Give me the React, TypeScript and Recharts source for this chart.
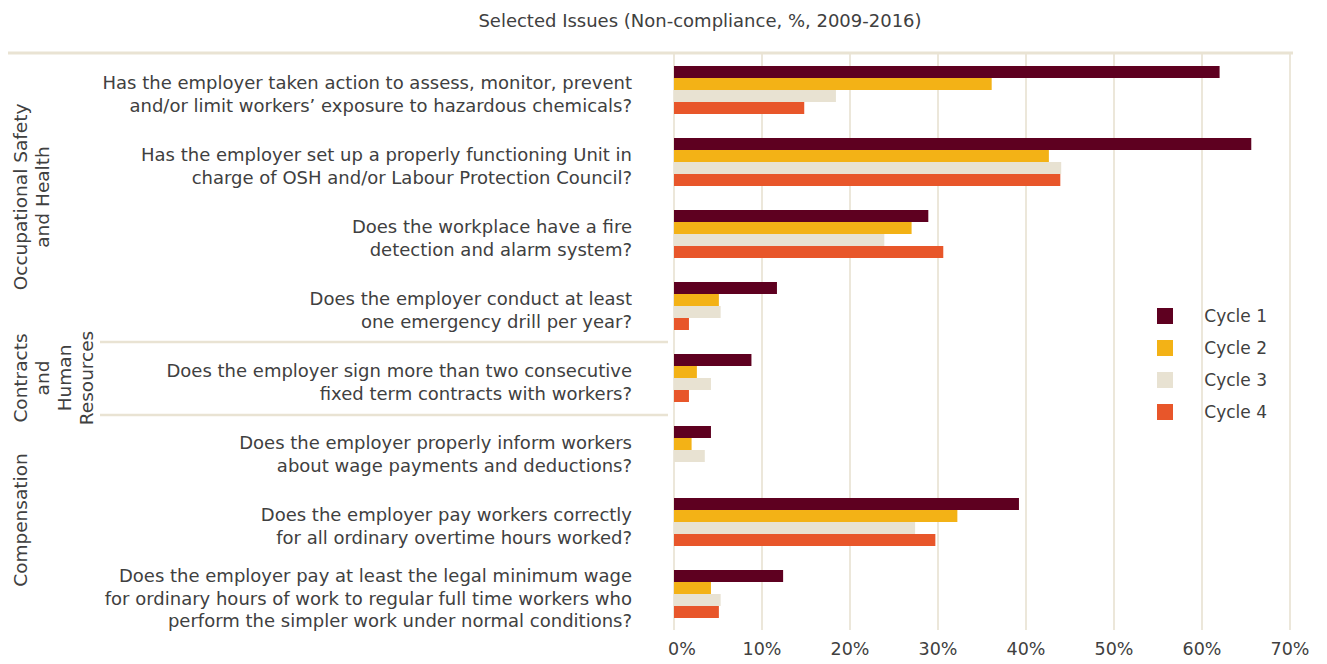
import React from 'react'
import { BarChart, Bar, XAxis, YAxis, CartesianGrid } from 'recharts'

const issues = [
  'Has the employer taken action to assess, monitor, prevent\nand/or limit workers’ exposure to hazardous chemicals?',
  'Has the employer set up a properly functioning Unit in\ncharge of OSH and/or Labour Protection Council?',
  'Does the workplace have a fire\ndetection and alarm system?',
  'Does the employer conduct at least\none emergency drill per year?',
  'Does the employer sign more than two consecutive\nfixed term contracts with workers?',
  'Does the employer properly inform workers\nabout wage payments and deductions?',
  'Does the employer pay workers correctly\nfor all ordinary overtime hours worked?',
  'Does the employer pay at least the legal minimum wage\nfor ordinary hours of work to regular full time workers who\nperform the simpler work under normal conditions?',
]

const cycle1 = [62.0, 65.6, 28.9, 11.7, 8.8, 4.2, 39.2, 12.4]
const cycle2 = [36.1, 42.6, 27.0, 5.1, 2.6, 2.0, 32.2, 4.2]
const cycle3 = [18.4, 44.0, 23.9, 5.3, 4.2, 3.5, 27.4, 5.3]
const cycle4 = [14.8, 43.9, 30.6, 1.7, 1.7, 0, 29.7, 5.1]

const xTicks = [0, 10, 20, 30, 40, 50, 60, 70]

const seriesDefs = [
  { key: 'c1', label: 'Cycle 1', color: '#5e0020', values: cycle1 },
  { key: 'c2', label: 'Cycle 2', color: '#f3b216', values: cycle2 },
  { key: 'c3', label: 'Cycle 3', color: '#e8e2d2', values: cycle3 },
  { key: 'c4', label: 'Cycle 4', color: '#e8562a', values: cycle4 },
]

const groups = [
  { lines: ['Occupational Safety', 'and Health'], cy: 189 },
  { lines: ['Contracts', 'and', 'Human', 'Resources'], cy: 370 },
  { lines: ['Compensation'], cy: 512 },
]

const data = issues.map((issue, i) => {
  const row: Record<string, string | number> = { issue }
  seriesDefs.forEach((s) => {
    row[s.key] = s.values[i]
  })
  return row
})

const FONT = '"DejaVu Sans", sans-serif'
const TEXT = '#404040'

function IssueTick(props: any) {
  const { x, y, payload } = props
  const lines = String(payload.value).split('\n')
  const lh = 22.5
  // labels sit a little below the bar group's centre in the original
  const start = y + 3.5 - ((lines.length - 1) * lh) / 2
  return (
    <text
      x={x}
      y={start}
      textAnchor="end"
      fill={TEXT}
      fontSize={18}
      fontFamily={FONT}
      dominantBaseline="central"
    >
      {lines.map((l, i) => (
        <tspan key={i} x={x} y={start + i * lh}>
          {l}
        </tspan>
      ))}
    </text>
  )
}

function PctTick(props: any) {
  const { x, y, payload, index } = props
  return (
    <text
      x={x + (index === 0 ? 8 : 0)}
      y={y}
      dy="0.71em"
      textAnchor="middle"
      fill={TEXT}
      fontSize={17.5}
      fontFamily={FONT}
    >
      {payload.value}%
    </text>
  )
}

export default function App() {
  const W = 1311
  const H = 656
  return (
    <div style={{ position: 'relative', width: W, height: H }}>
      <BarChart
        width={W}
        height={H}
        data={data}
        layout="vertical"
        margin={{ top: 46, right: 29, bottom: 4, left: 0 }}
        barGap={0}
      >
        <CartesianGrid horizontal={false} stroke="#ece7da" strokeWidth={2} />
        <XAxis
          type="number"
          domain={[0, 70]}
          ticks={xTicks}
          axisLine={false}
          tickLine={false}
          tickMargin={7}
          height={30}
          tick={<PctTick />}
          interval={0}
        />
        <YAxis
          type="category"
          dataKey="issue"
          width={666}
          axisLine={false}
          tickLine={false}
          tickMargin={36}
          tick={<IssueTick />}
          interval={0}
        />
        {seriesDefs.map((s) => (
          <Bar
            key={s.key}
            dataKey={s.key}
            name={s.label}
            fill={s.color}
            barSize={12}
            isAnimationActive={false}
          />
        ))}
      </BarChart>
      <div style={{ position: 'absolute', left: 1149, top: 292, width: 110 }}>
        {seriesDefs.map((s) => (
          <div
            key={s.key}
            style={{ display: 'flex', alignItems: 'center', justifyContent: 'space-between', height: 32 }}
          >
            <span style={{ width: 16, height: 16, background: s.color, display: 'inline-block' }} />
            <span style={{ fontSize: 17, fontFamily: FONT, color: TEXT }}>{s.label}</span>
          </div>
        ))}
      </div>
      <svg
        width={W}
        height={H}
        style={{ position: 'absolute', left: 0, top: 0, pointerEvents: 'none' }}
      >
        <text
          x={692}
          y={12}
          textAnchor="middle"
          dominantBaseline="central"
          fill={TEXT}
          fontSize={18}
          fontFamily={FONT}
        >
          Selected Issues (Non-compliance, %, 2009-2016)
        </text>
        <line x1={0} x2={1285} y1={45} y2={45} stroke="#e9e3d3" strokeWidth={3} />
        <line x1={92} x2={660} y1={334} y2={334} stroke="#e9e3d3" strokeWidth={2.5} />
        <line x1={92} x2={660} y1={407} y2={407} stroke="#e9e3d3" strokeWidth={2.5} />
        {groups.map((g, gi) =>
          g.lines.map((l, li) => (
            <text
              key={gi + '-' + li}
              transform={`translate(${12 + li * 22}, ${g.cy}) rotate(-90)`}
              textAnchor="middle"
              dominantBaseline="central"
              fill={TEXT}
              fontSize={18.5}
              fontFamily={FONT}
            >
              {l}
            </text>
          ))
        )}
      </svg>
    </div>
  )
}
